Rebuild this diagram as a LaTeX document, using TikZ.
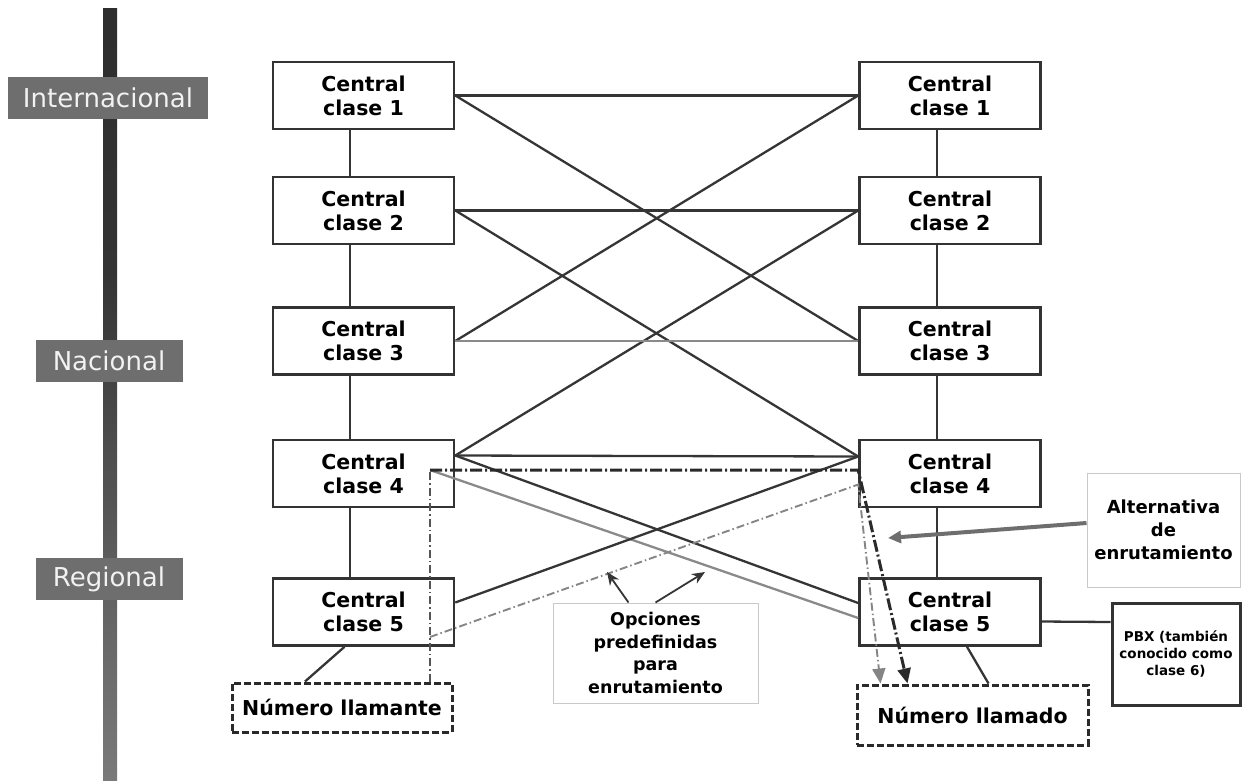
\documentclass[tikz,border=0pt]{standalone}
\usepackage{fontspec}
\setmainfont{DejaVu Sans}
\usetikzlibrary{arrows.meta}

\definecolor{boxc}{HTML}{333333}
\definecolor{linkc}{HTML}{353535}
\definecolor{lightc}{HTML}{8A8A8A}
\definecolor{routec}{HTML}{2A2A2A}
\definecolor{thinc}{HTML}{555555}
\definecolor{altc}{HTML}{858585}
\definecolor{notec}{HTML}{C9C9C9}
\definecolor{lvlc}{HTML}{6E6E6E}
\definecolor{lvltext}{HTML}{F2F2F2}
\definecolor{bartop}{HTML}{242424}
\definecolor{barhigh}{HTML}{343434}
\definecolor{barmid}{HTML}{666666}
\definecolor{barlow}{HTML}{ABABAB}
\definecolor{arrowgray}{HTML}{6E6E6E}

\pgfdeclareverticalshading{barshade}{100bp}{color(0bp)=(barlow); color(35bp)=(barmid); color(58bp)=(barhigh); color(100bp)=(bartop)}

\begin{document}
\begin{tikzpicture}[x=1pt,y=-1pt,
  central/.style={draw=boxc, line width=2.6pt, minimum width=181pt, minimum height=67pt,
    inner sep=0pt, align=center, font=\fontsize{20.5}{24}\selectfont\bfseries},
  level/.style={fill=lvlc, text=lvltext, minimum height=42pt, inner sep=0pt,
    font=\fontsize{26}{30}\selectfont},
  numbox/.style={draw=routec, line width=3pt, dash pattern=on 7pt off 3pt, inner sep=0pt,
    font=\fontsize{20.5}{24}\selectfont\bfseries},
  notebox/.style={draw=notec, line width=1pt, inner sep=0pt, align=center,
    font=\fontsize{17.5}{22.5}\selectfont\bfseries},
  pbxbox/.style={draw=boxc, line width=3pt, inner sep=0pt, align=center,
    font=\fontsize{13.5}{17}\selectfont\bfseries},
  link/.style={draw=linkc, line width=2.3pt},
  lightlink/.style={draw=lightc, line width=2.3pt},
  route/.style={draw=routec, line width=3pt, dash pattern=on 12pt off 3pt on 2pt off 3pt},
  thinroute/.style={draw=thinc, line width=1.6pt, dash pattern=on 8pt off 3pt on 1.5pt off 3pt},
  altroute/.style={draw=altc, line width=1.9pt, dash pattern=on 8pt off 3pt on 1.5pt off 3pt},
  bigtip/.style={-{Triangle[length=15pt,width=13pt]}}
]
\useasboundingbox (0,0) rectangle (1247,780);

% hierarchy bar with its level labels
\shade[shading=barshade] (103,8) rectangle (117,780);
\node[level, minimum width=200pt] (lvInt) at (108,98) {Internacional};
\node[level, minimum width=147pt] (lvNac) at (109,361) {Nacional};
\node[level, minimum width=147pt] (lvReg) at (109,579) {Regional};

% exchanges, calling side
\node[central] (L1) at (363.5,95.5)  {Central\\clase 1};
\node[central] (L2) at (363.5,210.5) {Central\\clase 2};
\node[central] (L3) at (363.5,341)   {Central\\clase 3};
\node[central] (L4) at (363.5,473.5) {Central\\clase 4};
\node[central] (L5) at (363.5,612)   {Central\\clase 5};

% exchanges, called side
\node[central] (R1) at (950,95.5)  {Central\\clase 1};
\node[central] (R2) at (950,210.5) {Central\\clase 2};
\node[central] (R3) at (950,341)   {Central\\clase 3};
\node[central] (R4) at (950,473.5) {Central\\clase 4};
\node[central] (R5) at (950,612)   {Central\\clase 5};

% end points and notes
\node[numbox, minimum width=220pt, minimum height=49pt] (NA) at (342,707.5) {Número llamante};
\node[numbox, minimum width=231pt, minimum height=60pt] (NB) at (972.5,715) {Número llamado};
\node[pbxbox, minimum width=128pt, minimum height=102pt] (PBX) at (1176,654)
  {PBX (también\\conocido como\\clase 6)};
\node[notebox, minimum width=205pt, minimum height=100pt] (OP) at (655.5,653)
  {Opciones\\predefinidas\\para\\enrutamiento};
\node[notebox, minimum width=153pt, minimum height=114pt, font=\fontsize{18}{23}\selectfont\bfseries]
  (ALT) at (1163.5,530) {Alternativa\\de\\enrutamiento};

% helper points
\coordinate (cA) at (430,470);
\coordinate (cB) at (430,637);
\coordinate (altTip) at (888,538);
\coordinate (opTipA) at (607,572);
\coordinate (opTipB) at (705,572);

% vertical trunks
\foreach \a/\b in {L1/L2,L2/L3,L3/L4,L4/L5}
  \draw[link] ([xshift=-13.5pt]\a.south) -- ([xshift=-13.5pt]\b.north);
\foreach \a/\b in {R1/R2,R2/R3,R3/R4,R4/R5}
  \draw[link] ([xshift=-13pt]\a.south) -- ([xshift=-13pt]\b.north);

% cross connections between both sides
\draw[link] (L1.east) -- (R1.west);
\draw[link] (L1.east) -- (R3.west);
\draw[link] (L3.east) -- (R1.west);
\draw[link] (L2.east) -- (R2.west);
\draw[link] (L2.east) -- ([yshift=17pt]R4.west);
\draw[link] ([yshift=18pt]L4.east) -- (R2.west);
\draw[lightlink] (L3.east) -- (R3.west);
\draw[link] ([yshift=18pt]L4.east) -- ([yshift=17pt]R4.west);
\draw[link] ([yshift=18pt]L4.east) -- ([yshift=9pt]R5.west);
\draw[lightlink] (cA) -- ([yshift=-6pt]R5.west);
\draw[link] ([yshift=9.5pt]L5.east) -- ([yshift=17pt]R4.west);

% local links
\draw[link] ([xshift=-19pt]L5.south) -- ([xshift=-37pt]NA.north);
\draw[link] ([xshift=17pt]R5.south) -- ([xshift=16pt]NB.north);
\draw[link] ([yshift=-9.5pt]R5.east) -- ([yshift=32pt]PBX.west);

% routes
\draw[thinroute] ([xshift=88pt]NA.north) -- (cA);
\draw[route, bigtip] (cA) -- ([yshift=3.5pt]R4.west) -- ([xshift=-65pt]NB.north);
\draw[altroute, bigtip] (cB) -- ([yshift=-11pt]R4.west) -- ([xshift=-92pt]NB.north);

% note arrows
\draw[draw=arrowgray, line width=4pt, -{Triangle[length=13pt,width=12pt]}]
  ([yshift=7pt]ALT.west) -- (altTip);
\draw[draw=linkc, line width=1.8pt, -{Stealth[length=13pt,width=11pt]}]
  ([xshift=-27pt]OP.north) -- (opTipA);
\draw[draw=linkc, line width=1.8pt, -{Stealth[length=13pt,width=11pt]}]
  (OP.north) -- (opTipB);
\end{tikzpicture}
\end{document}
